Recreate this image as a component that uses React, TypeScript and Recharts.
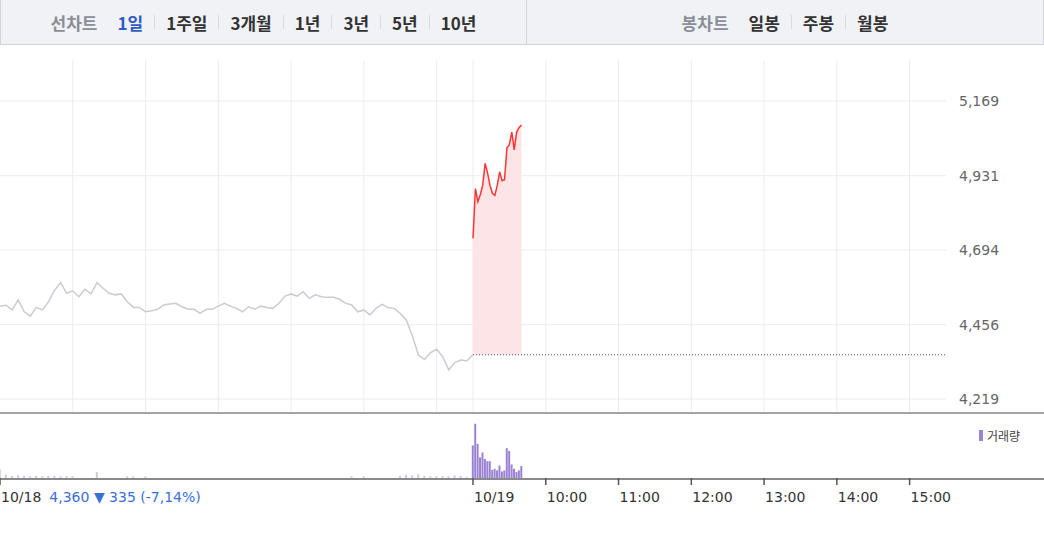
import React from 'react';
import {
  ComposedChart,
  Line,
  Area,
  XAxis,
  YAxis,
  CartesianGrid,
  ReferenceLine,
  BarChart,
  Bar,
} from 'recharts';

// ---- data ----
// previous trading day (10/18), one sample every 5 minutes from 09:00
const prevPrices = [
  4515, 4518, 4503, 4535, 4497, 4483, 4511, 4503, 4529, 4566,
  4590, 4556, 4564, 4545, 4569, 4554, 4590, 4572, 4556, 4551,
  4554, 4529, 4511, 4511, 4497, 4500, 4505, 4519, 4522, 4524,
  4513, 4505, 4505, 4492, 4505, 4505, 4515, 4524, 4515, 4508,
  4497, 4513, 4505, 4515, 4511, 4508, 4524, 4547, 4554, 4547,
  4561, 4540, 4551, 4545, 4543, 4543, 4537, 4524, 4519, 4497,
  4503, 4487, 4508, 4521, 4511, 4508, 4492, 4471, 4420, 4359,
  4345, 4367, 4378, 4354, 4312, 4335, 4343, 4341, 4360,
];
const prevVolumes = [
  15, 6, 4, 5, 4, 3, 4, 3, 4, 4,
  3, 4, 3, 0, 0, 0, 11, 0, 0, 0,
  0, 3, 3, 0, 3, 0, 0, 0, 0, 0,
  0, 0, 0, 0, 0, 0, 0, 0, 0, 0,
  0, 0, 0, 0, 0, 0, 0, 0, 0, 0,
  0, 0, 0, 0, 0, 0, 0, 0, 3, 0,
  3, 0, 0, 0, 0, 0, 4, 6, 5, 7,
  4, 3, 3, 4, 3, 5, 4, 2, 0,
];
// current day (10/19), one sample every 2 minutes from 09:00
const curPrices = [
  4731, 4890, 4848, 4870, 4900, 4970, 4940, 4900, 4875, 4868,
  4900, 4943, 4915, 4918, 5020, 5030, 5070, 5013, 5070, 5085, 5092,
];
const curVolumes = [
  60, 100, 63, 38, 47, 35, 31, 31, 15, 17,
  14, 23, 12, 14, 55, 50, 25, 17, 11, 14, 22,
];

const prevClose = 4360;
const summaryText = '4,360 \u25BC 335 (-7,14%)';
const priceTicks = [4219, 4456, 4694, 4931, 5169];
const timeTicks = [0, 390, 450, 510, 570, 630, 690, 750];
const timeTickLabels = ['10/18', '10/19', '10:00', '11:00', '12:00', '13:00', '14:00', '15:00'];
const gridTimes = [60, 120, 180, 240, 300, 360, 390, 450, 510, 570, 630, 690, 750];
const leftTitle = '선차트';
const leftTabs = ['1일', '1주일', '3개월', '1년', '3년', '5년', '10년'];
const rightTitle = '봉차트';
const rightTabs = ['일봉', '주봉', '월봉'];
const volumeLabel = '거래량';

const PREV_STEP = 5;
const CUR_STEP = 2;
const DAY_MIN = 390;
const TOTAL_MIN = 780;

const rowMap = new Map<number, any>();
prevPrices.forEach((p, i) => {
  const t = i * PREV_STEP;
  rowMap.set(t, { ...(rowMap.get(t) || {}), t, prev: p, prevVol: prevVolumes[i] });
});
curPrices.forEach((p, i) => {
  const t = DAY_MIN + i * CUR_STEP;
  rowMap.set(t, { ...(rowMap.get(t) || {}), t, cur: p, curVol: curVolumes[i] });
});
const rows = Array.from(rowMap.values()).sort((a, b) => a.t - b.t);

const AXIS_FONT = '"DejaVu Sans", sans-serif';
const KR_FONT = '"Noto Sans CJK KR", "Noto Sans", sans-serif';
const PURPLE = '#9b82d2';

const TimeTick = (props: any) => {
  const { x, y, payload } = props;
  const idx = timeTicks.indexOf(payload.value);
  const label = timeTickLabels[idx];
  return (
    <g>
      <line x1={x} x2={x} y1={y} y2={y + 7} stroke="#555" strokeWidth={1.5} />
      <text x={x + 1} y={y + 24} textAnchor="start" fontFamily={AXIS_FONT} fontSize={14} fill="#333">
        <tspan>{label}</tspan>
        {payload.value === 0 && (
          <tspan dx={8} fill="#3a6fd8">{summaryText}</tspan>
        )}
      </text>
    </g>
  );
};

const Sep = () => (
  <span style={{ display: 'inline-block', width: 1, height: 14, background: '#d9dbe0', margin: '0 11px' }} />
);

const TabGroup = ({ title, tabs, active }: { title: string; tabs: string[]; active: number }) => (
  <div style={{ display: 'flex', alignItems: 'center', fontFamily: KR_FONT, fontSize: 17, fontWeight: 700 }}>
    <span style={{ color: '#8a8e97', marginRight: 20 }}>{title}</span>
    {tabs.map((t, i) => (
      <React.Fragment key={t}>
        {i > 0 && <Sep />}
        <span style={{ color: i === active ? '#2f5bc4' : '#333' }}>{t}</span>
      </React.Fragment>
    ))}
  </div>
);

export default function App() {
  return (
    <div style={{ position: 'absolute', left: 0, top: 0, width: 1044, height: 540, background: '#fff', overflow: 'hidden' }}>
      {/* header */}
      <div style={{ position: 'absolute', left: 0, top: 0, width: 1042, height: 44, display: 'flex', background: '#f1f2f6', borderLeft: '1px solid #d3d5db', borderRight: '1px solid #d3d5db', borderBottom: '1px solid #d3d5db' }}>
        <div style={{ width: 525, display: 'flex', justifyContent: 'center', alignItems: 'center', borderRight: '1px solid #d3d5db' }}>
          <TabGroup title={leftTitle} tabs={leftTabs} active={0} />
        </div>
        <div style={{ flex: 1, display: 'flex', justifyContent: 'center', alignItems: 'center' }}>
          <TabGroup title={rightTitle} tabs={rightTabs} active={-1} />
        </div>
      </div>

      {/* price chart */}
      <div style={{ position: 'absolute', left: 0, top: 45 }}>
        <ComposedChart width={1044} height={368} data={rows} margin={{ top: 15, right: 0, bottom: 0, left: 0 }}>
          <CartesianGrid stroke="#ececec" horizontalValues={priceTicks} verticalValues={gridTimes} />
          <XAxis dataKey="t" type="number" domain={[0, TOTAL_MIN]} ticks={gridTimes} interval={0} hide />
          <YAxis
            orientation="right"
            width={98}
            domain={[4174.4, 5299.7]}
            ticks={priceTicks}
            interval={0}
            allowDataOverflow
            axisLine={false}
            tickLine={false}
            tickMargin={7}
            tick={{ fontFamily: AXIS_FONT, fontSize: 14, fill: '#666' }}
            tickFormatter={(v: number) => v.toLocaleString('en-US')}
          />
          <Area
            dataKey="cur"
            type="linear"
            baseValue={prevClose}
            stroke="none"
            fill="#fde4e7"
            fillOpacity={1}
            isAnimationActive={false}
          />
          <ReferenceLine
            segment={[{ x: DAY_MIN, y: prevClose }, { x: TOTAL_MIN, y: prevClose }]}
            stroke="#555"
            strokeDasharray="1 2"
            ifOverflow="visible"
          />
          <Line dataKey="prev" type="linear" stroke="#c9ccd3" strokeWidth={1.5} dot={false} isAnimationActive={false} />
          <Line dataKey="cur" type="linear" stroke="#ff3333" strokeWidth={1.5} dot={false} isAnimationActive={false} />
        </ComposedChart>
      </div>

      {/* separators */}
      <div style={{ position: 'absolute', left: 0, top: 412, width: 1044, height: 2, background: '#a4a4a8' }} />
      <div style={{ position: 'absolute', left: 0, top: 478, width: 1044, height: 1.5, background: '#8a8a8e' }} />

      {/* volume chart */}
      <div style={{ position: 'absolute', left: 0, top: 414 }}>
        <BarChart width={1044} height={94} data={rows} margin={{ top: 0, right: 98, bottom: 0, left: 0 }}>
          <XAxis
            dataKey="t"
            type="number"
            domain={[0, TOTAL_MIN]}
            ticks={timeTicks}
            interval={0}
            height={30}
            axisLine={false}
            tickLine={false}
            tickSize={0}
            tickMargin={0}
            tick={<TimeTick />}
          />
          <YAxis hide domain={[0, 118]} />
          <Bar dataKey="prevVol" stackId="v" fill="#cdcdd3" barSize={2} isAnimationActive={false} />
          <Bar dataKey="curVol" stackId="v" fill={PURPLE} barSize={2} isAnimationActive={false} />
        </BarChart>
      </div>

      {/* volume legend */}
      <div style={{ position: 'absolute', left: 979, top: 427, display: 'flex', alignItems: 'center', fontFamily: KR_FONT, fontSize: 12, color: '#444' }}>
        <span style={{ display: 'inline-block', width: 4, height: 11, background: PURPLE, marginRight: 4 }} />
        <span>{volumeLabel}</span>
      </div>
    </div>
  );
}
